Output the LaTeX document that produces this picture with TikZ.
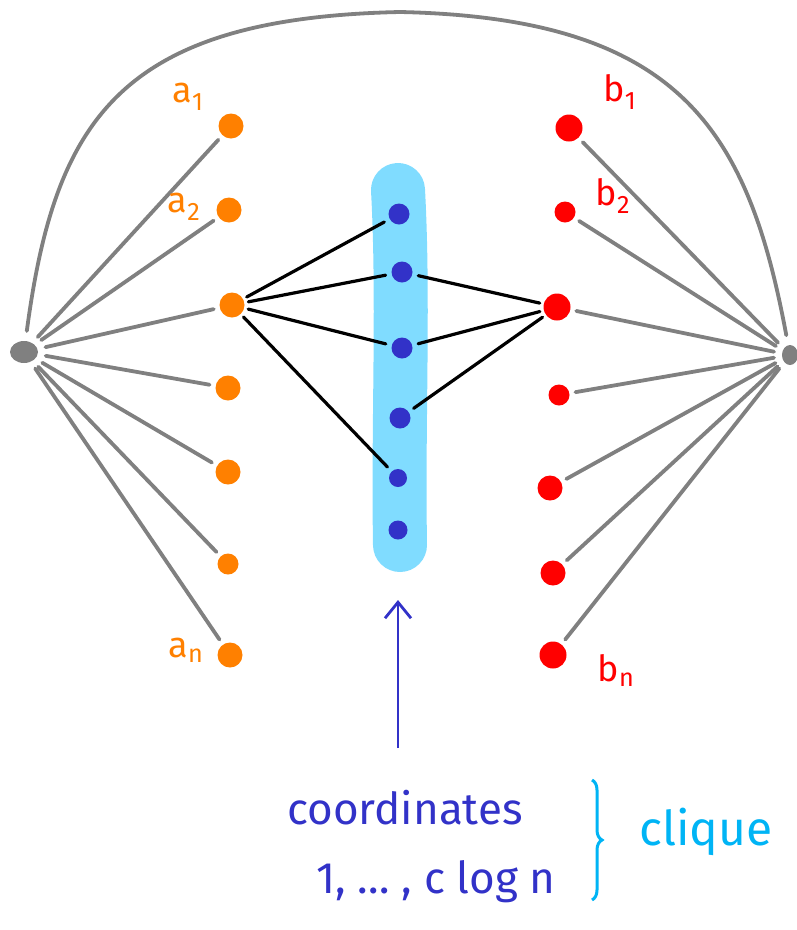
\documentclass[tikz,border=0pt]{standalone}
\usepackage{fontspec}
\setmainfont{Fira Sans}
\usetikzlibrary{arrows.meta,decorations.pathreplacing,shapes.geometric}
\definecolor{aor}{RGB}{255,128,0}
\definecolor{bred}{RGB}{255,0,0}
\definecolor{cblue}{RGB}{50,50,200}
\definecolor{band}{RGB}{128,220,255}
\definecolor{ctext}{RGB}{0,180,245}
\definecolor{hub}{RGB}{128,128,128}
\tikzset{
  anode/.style={circle,fill=aor,inner sep=0pt,minimum size=25pt},
  bnode/.style={circle,fill=bred,inner sep=0pt,minimum size=25pt},
  cnode/.style={circle,fill=cblue,inner sep=0pt,minimum size=21pt},
  hubnode/.style={ellipse,fill=hub,inner sep=0pt,minimum width=28pt,minimum height=22pt},
  gedge/.style={draw=hub,line width=3.8pt,line cap=round,shorten >=6pt,shorten <=8pt},
  kedge/.style={draw=black,line width=3.2pt,line cap=round,shorten >=6pt,shorten <=4pt},
  alabel/.style={text=aor,font=\fontsize{36}{40}\selectfont},
  blabel/.style={text=bred,font=\fontsize{36}{40}\selectfont},
}
\begin{document}
\begin{tikzpicture}[x=1pt,y=-1pt]
\useasboundingbox (0,0) rectangle (797,930);
% clique band
\draw[band,line width=54pt,line cap=round] (398,190) .. controls (404,300) and (398,420) .. (400,545);
% hubs
\node[hubnode] (L) at (24,352) {};
\node[hubnode,minimum width=16pt,minimum height=20pt] (R) at (790,355) {};
% a nodes
\node[anode] (a1) at (231,126) {};
\node[anode] (a2) at (229,210) {};
\node[anode] (a3) at (232,305) {};
\node[anode] (a4) at (228,388) {};
\node[anode] (a5) at (228,472) {};
\node[anode,minimum size=21pt] (a6) at (228,564) {};
\node[anode] (a7) at (230,655) {};
% b nodes
\node[bnode,minimum size=27pt] (b1) at (569,128) {};
\node[bnode,minimum size=21pt] (b2) at (565,212) {};
\node[bnode,minimum size=27pt] (b3) at (557,307) {};
\node[bnode,minimum size=21pt] (b4) at (559,395) {};
\node[bnode] (b5) at (550,488) {};
\node[bnode] (b6) at (553,573) {};
\node[bnode,minimum size=27pt] (b7) at (553,655) {};
% clique nodes
\node[cnode] (c1) at (399,214) {};
\node[cnode] (c2) at (402,272) {};
\node[cnode] (c3) at (402,348) {};
\node[cnode] (c4) at (400,418) {};
\node[cnode,minimum size=18pt] (c5) at (398,478) {};
\node[cnode,minimum size=19pt] (c6) at (398,530) {};
% gray edges
\foreach \n in {a1,a2,a3,a4,a5,a6,a7} \draw[gedge] (L) -- (\n);
\foreach \n in {b1,b2,b3,b4,b5,b6,b7} \draw[gedge] (R) -- (\n);
\draw[gedge,shorten >=10pt,shorten <=10pt] (L) .. controls (55,120) and (120,18) .. (400,12) .. controls (680,18) and (748,130) .. (R);
% black edges
\foreach \n in {c1,c2,c3,c5} \draw[kedge] (a3) -- (\n);
\foreach \n in {c2,c3,c4} \draw[kedge] (b3) -- (\n);
% labels
\node[alabel] (la1) at (188,97) {a\textsubscript{1}};
\node[alabel] (la2) at (184,207) {a\textsubscript{2}};
\node[alabel] (lan) at (186,650) {a\textsubscript{n}};
\node[blabel] (lb1) at (620,92) {b\textsubscript{1}};
\node[blabel] (lb2) at (613,196) {b\textsubscript{2}};
\node[blabel] (lbn) at (616,670) {b\textsubscript{n}};
% arrow
\coordinate (arrtail) at (398,748);
\coordinate (arrhead) at (398,600);
\draw[cblue,line width=2.8pt,-{Straight Barb[length=16pt,width=26pt]}] (arrtail) -- (arrhead);
% text
\node[text=cblue,font=\fontsize{44}{50}\selectfont] (t1) at (405,808) {coordinates};
\node[text=cblue,font=\fontsize{44}{50}\selectfont] (t2) at (436,882) {1, … , c log n};
\draw[ctext,line width=3pt,decorate,decoration={brace,amplitude=10pt}] (592,780) -- (592,900);
\node[text=ctext,font=\fontsize{48}{54}\selectfont] (t3) at (706,832) {clique};
\end{tikzpicture}
\end{document}
